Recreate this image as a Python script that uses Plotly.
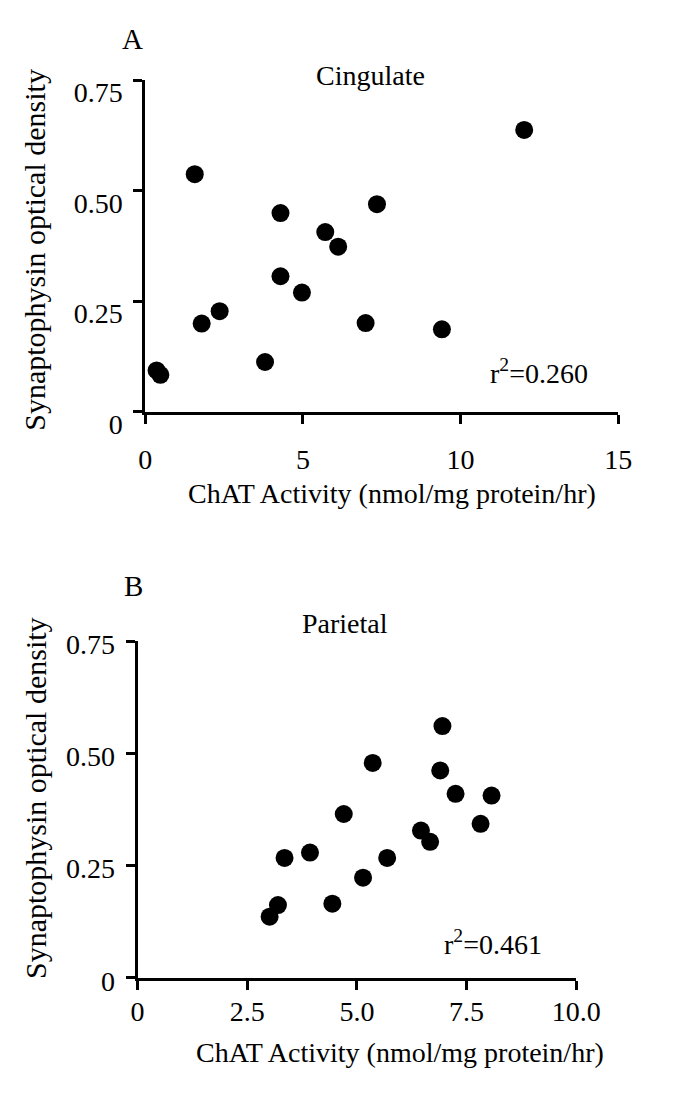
import plotly.graph_objects as go

W, H = 687, 1104

# Panel A - Cingulate
cing_x = [12.02, 1.57, 7.35, 4.29, 5.71, 6.12, 4.29, 4.97, 2.36, 1.79, 6.99, 9.41, 3.80, 0.36, 0.48]
cing_y = [0.638, 0.538, 0.470, 0.450, 0.407, 0.374, 0.307, 0.270, 0.228, 0.200, 0.201, 0.187, 0.113, 0.094, 0.084]
cing_r2 = "0.260"

# Panel B - Parietal
par_x = [6.95, 5.36, 6.90, 7.25, 8.07, 4.70, 7.82, 6.46, 6.67, 3.93, 3.35, 5.69, 5.14, 3.20, 4.44, 3.01]
par_y = [0.561, 0.479, 0.462, 0.410, 0.406, 0.365, 0.343, 0.328, 0.303, 0.279, 0.267, 0.267, 0.223, 0.162, 0.165, 0.136]
par_r2 = "0.461"

y_tickvals = [0, 0.25, 0.5, 0.75]
y_ticktext = ["0", "0.25", "0.50", "0.75"]
xa_tickvals = [0, 5, 10, 15]
xa_ticktext = ["0", "5", "10", "15"]
xb_tickvals = [0, 2.5, 5, 7.5, 10]
xb_ticktext = ["0", "2.5", "5.0", "7.5", "10.0"]

x_title = "ChAT Activity (nmol/mg protein/hr)"
y_title = "Synaptophysin optical density"

FONT = "Liberation Serif, Times New Roman, serif"

def px(x):
    return x / W

def py(y):
    return 1 - y / H

fig = go.Figure()
marker = dict(color="black", size=18, line=dict(width=0))
fig.add_trace(go.Scatter(x=cing_x, y=cing_y, mode="markers", marker=marker,
                         xaxis="x", yaxis="y", cliponaxis=False, showlegend=False))
fig.add_trace(go.Scatter(x=par_x, y=par_y, mode="markers", marker=marker,
                         xaxis="x2", yaxis="y2", cliponaxis=False, showlegend=False))

axis_common = dict(showline=True, linewidth=3, linecolor="black", ticks="outside",
                   ticklen=9, tickwidth=3, tickcolor="black", showgrid=False,
                   zeroline=False, tickfont=dict(family=FONT, size=28, color="black"))

fig.update_layout(
    width=W, height=H, margin=dict(l=0, r=0, t=0, b=0),
    paper_bgcolor="white", plot_bgcolor="white",
    font=dict(family=FONT, color="black"),
    xaxis=dict(domain=[px(145), px(641)], range=[0, 15], tickmode="array",
               tickvals=xa_tickvals, ticktext=xa_ticktext, anchor="y",
               ticklabelstandoff=11, **axis_common),
    yaxis=dict(domain=[py(415), py(71)], range=[0, 0.75], tickmode="array",
               tickvals=y_tickvals, ticktext=y_ticktext, anchor="x",
               ticklabelstandoff=5, ticklabelshift=12, **axis_common),
    xaxis2=dict(domain=[px(137), px(597)], range=[0, 10], tickmode="array",
                tickvals=xb_tickvals, ticktext=xb_ticktext, anchor="y2",
                ticklabelstandoff=-2, **axis_common),
    yaxis2=dict(domain=[py(1002), py(653)], range=[0, 0.75], tickmode="array",
                tickvals=y_tickvals, ticktext=y_ticktext, anchor="x2",
                ticklabelstandoff=5, ticklabelshift=3, **axis_common),
)

def txt(x, y, text, size, angle=0, xref="paper", yref="paper"):
    fig.add_annotation(x=x, y=y, xref=xref, yref=yref, text=text, showarrow=False,
                       textangle=angle, xanchor="center", yanchor="middle",
                       font=dict(family=FONT, size=size, color="black"))

# Panel letters
txt(px(132), py(28), "A", 29)
txt(px(133), py(596), "B", 29)
# Region titles
txt(px(381), py(66), "Cingulate", 28)
txt(px(354), py(634), "Parietal", 28)
# Axis titles
txt(px(404), py(500), x_title, 28)
txt(px(412), py(1080), x_title, 28)
txt(px(28), py(247), y_title, 30, angle=-90)
txt(px(30), py(816), y_title, 30, angle=-90)
# r^2 values
txt(12.5, 0.092, "r<sup>2</sup>=" + cing_r2, 28, xref="x", yref="y")
txt(8.1, 0.078, "r<sup>2</sup>=" + par_r2, 28, xref="x2", yref="y2")

fig.write_html("out.html")
